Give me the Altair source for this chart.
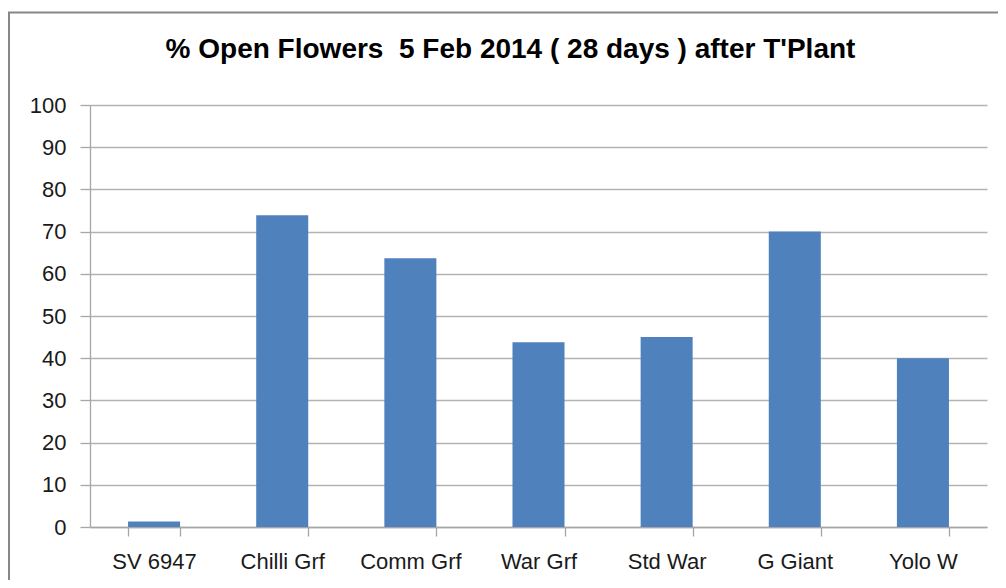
import altair as alt
import pandas as pd

categories = ["SV 6947", "Chilli Grf", "Comm Grf", "War Grf", "Std War", "G Giant", "Yolo W"]
values = [1.3, 73.9, 63.7, 43.8, 45.0, 70.0, 40.0]
y_ticks = [0, 10, 20, 30, 40, 50, 60, 70, 80, 90, 100]
title_text = "% Open Flowers \u00a05 Feb 2014 ( 28 days ) after T'Plant"

df = pd.DataFrame({"cat": categories, "val": values})

W, H = 897, 422
FONT = "Liberation Sans"

bars = alt.Chart(df).mark_bar(color="#4F81BD").encode(
    x=alt.X(
        "cat:N",
        sort=categories,
        scale=alt.Scale(paddingInner=0.594, paddingOuter=0.297),
        axis=alt.Axis(
            title=None, labelAngle=0, tickBand="extent", tickSize=9,
            labelPadding=15, labelFontSize=22, labelFont=FONT, labelColor="#1a1a1a",
            domainColor="#a6a6a6", tickColor="#a6a6a6", domainWidth=1.3, tickWidth=1.3,
            grid=False,
        ),
    ),
    y=alt.Y(
        "val:Q",
        scale=alt.Scale(domain=[0, 100], nice=False),
        axis=alt.Axis(
            title=None, values=y_ticks, tickSize=10, labelPadding=14,
            labelFontSize=22, labelFont=FONT, labelColor="#1a1a1a",
            domainColor="#a6a6a6", tickColor="#a6a6a6", domainWidth=1.3, tickWidth=1.3,
            gridColor="#b3b3b3", gridWidth=1.3,
        ),
    ),
)

border = alt.Chart(alt.Data(values=[{}])).mark_rect(
    filled=False, stroke="#878787", strokeWidth=2, clip=False
).encode(
    x=alt.value(-81), x2=alt.value(W + 40),
    y=alt.value(-92.5), y2=alt.value(H + 90),
)

chart = alt.layer(border, bars).properties(
    width=W, height=H,
    title=alt.TitleParams(
        text=title_text, font=FONT, fontSize=28, fontWeight="bold", color="#000000",
        anchor="middle", frame="group", dx=-28, baseline="alphabetic", offset=-74,
    ),
    autosize=alt.AutoSizeParams(type="none"),
    padding={"left": 82, "top": 97, "right": 11, "bottom": 53},
).configure_view(stroke=None)

chart.save("out.html", embed_options={"renderer": "svg", "actions": False})
